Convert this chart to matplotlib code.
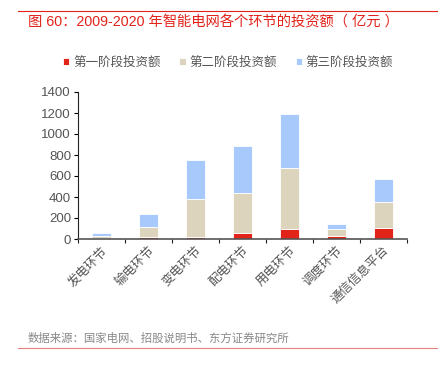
import matplotlib
matplotlib.use('Agg')
import matplotlib.pyplot as plt
import numpy as np

plt.rcParams['font.family'] = ['Liberation Sans', 'Noto Sans CJK SC']

# 数据（亿元）
categories = ['发电环节', '输电环节', '变电环节', '配电环节', '用电环节', '调度环节', '通信信息平台']
stage1 = [8, 18, 18, 55, 99, 29, 105]
stage2 = [25, 94, 362, 380, 580, 63, 243]
stage3 = [22, 124, 370, 455, 507, 55, 223]
series_names = ['第一阶段投资额', '第二阶段投资额', '第三阶段投资额']
colors = ['#E2231A', '#DDD4BE', '#A8C9FC']

fig = plt.figure(figsize=(4.38, 3.69), dpi=100)
ax = fig.add_axes([78/438, 1 - 239/369, (407-78)/438, (239-92)/369])

x = np.arange(len(categories))
bottom = np.zeros(len(categories))
for vals, name, c in zip([stage1, stage2, stage3], series_names, colors):
    ax.bar(x, vals, width=0.4, bottom=bottom, color=c, label=name,
           edgecolor='white', linewidth=0.6)
    bottom += np.array(vals)

ax.set_xlim(-0.5, len(categories) - 0.5)
ax.set_ylim(0, 1400)
ax.set_yticks(range(0, 1401, 200))
ax.set_xticks(np.arange(len(categories) + 1) - 0.5, minor=False)
ax.set_xticklabels([])
ax.set_xticks(x, minor=True)
ax.set_xticklabels(categories, minor=True, rotation=45, ha='right', va='top',
                   rotation_mode='anchor', fontsize=9, color='#555555')
ax.tick_params(axis='x', which='minor', length=0, pad=4)
ax.tick_params(axis='x', which='major', length=3, width=0.8, color='#222222')
ax.tick_params(axis='y', length=3, width=0.8, labelsize=9.5, labelcolor='#555555', pad=2)

for s in ['top', 'right']:
    ax.spines[s].set_visible(False)
ax.spines['left'].set_color('#222222')
ax.spines['left'].set_linewidth(0.8)
ax.spines['bottom'].set_color('#555555')
ax.spines['bottom'].set_linewidth(1.2)

fig.legend(loc='center', bbox_to_anchor=(228/438, 1 - 63/369), ncol=3, frameon=False,
           fontsize=9, handlelength=0.5, handleheight=0.5, handletextpad=0.3,
           columnspacing=1.5, labelcolor='#555555')

# 标题和来源
fig.text(28/438, 1 - 22/369, '图 60：2009-2020 年智能电网各个环节的投资额（ 亿元 ）',
         color='#E2231A', fontsize=10.3, fontweight='medium', va='center', ha='left')
fig.add_artist(plt.Line2D([18/438, 1], [1 - 11/369, 1 - 11/369], color='#E2231A', linewidth=0.8))
fig.text(28/438, 1 - 338/369, '数据来源：国家电网、招股说明书、东方证券研究所',
         color='#888888', fontsize=8.2, va='center', ha='left')
fig.add_artist(plt.Line2D([18/438, 1], [1 - 348/369, 1 - 348/369], color='#E88080', linewidth=0.8))

fig.savefig('out.png', dpi=100)
